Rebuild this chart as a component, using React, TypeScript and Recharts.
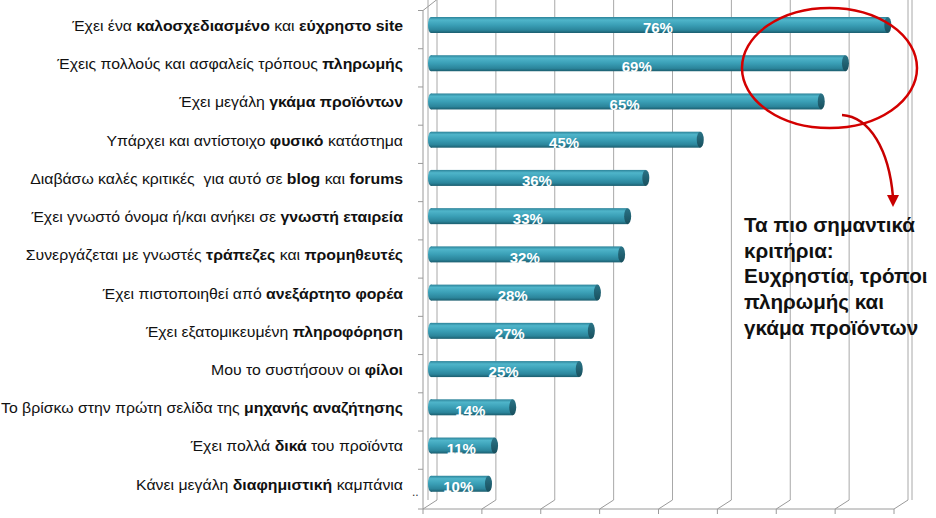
import React from 'react';
import { Bar, BarChart, CartesianGrid, LabelList, XAxis, YAxis } from 'recharts';

// criteria, top to bottom; **...** marks the bold part of a label
const categories = [
  'Έχει ένα **καλοσχεδιασμένο** και **εύχρηστο site**',
  'Έχεις πολλούς και ασφαλείς τρόπους **πληρωμής**',
  'Έχει μεγάλη **γκάμα προϊόντων**',
  'Υπάρχει και αντίστοιχο **φυσικό** κατάστημα',
  'Διαβάσω καλές κριτικές  για αυτό σε **blog** και **forums**',
  'Έχει γνωστό όνομα ή/και ανήκει σε **γνωστή εταιρεία**',
  'Συνεργάζεται με γνωστές **τράπεζες** και **προμηθευτές**',
  'Έχει πιστοποιηθεί από **ανεξάρτητο φορέα**',
  'Έχει εξατομικευμένη **πληροφόρηση**',
  'Μου το συστήσουν οι **φίλοι**',
  'Το βρίσκω στην πρώτη σελίδα της **μηχανής αναζήτησης**',
  'Έχει πολλά **δικά** του προϊόντα',
  'Κάνει μεγάλη **διαφημιστική** καμπάνια',
];

const shares = [76, 69, 65, 45, 36, 33, 32, 28, 27, 25, 14, 11, 10];

const noteLines = [
  'Τα πιο σημαντικά',
  'κριτήρια:',
  'Ευχρηστία, τρόποι',
  'πληρωμής και',
  'γκάμα προϊόντων',
];

const gridTicks = [0, 1, 2, 3, 4, 5, 6, 7, 8];

const data = categories.map((label, i) => ({ label, value: shares[i] }));

const FONT = '"Liberation Sans", Arial, sans-serif';

// layout of the pseudo-3d box
const W = 936;
const H = 518;
const PLOT_LEFT = 428;
const PLOT_RIGHT = 912;
const PLOT_TOP = 6;
const PLOT_BOTTOM = 503;
const WALL_X = 423;
const BACK_LEFT = 437;
const STEP = 58.875;
const DEPTH_X = 14;
const DEPTH_Y = 9;
const FLOOR_Y = 509;
const BACK_FLOOR = FLOOR_Y - DEPTH_Y;
const gridA = (PLOT_LEFT - BACK_LEFT) / STEP;
const gridB = gridA + (PLOT_RIGHT - PLOT_LEFT) / STEP;

const CategoryTick = ({ x, y, payload }: any) => {
  const parts = String(payload.value).split('**');
  return (
    <g transform={`translate(${x},${y}) scale(1.055,1)`}>
      <text
        x={0}
        y={0}
        textAnchor="end"
        dominantBaseline="central"
        fontFamily={FONT}
        fontSize={15}
        fill="#111"
        style={{ whiteSpace: 'pre' }}
      >
        {parts.map((p, i) => (
          <tspan key={i} fontWeight={i % 2 ? 'bold' : 'normal'}>
            {p}
          </tspan>
        ))}
      </text>
    </g>
  );
};

const CylinderBar = ({ x, y, width, height }: any) => {
  if (!width || width <= 0) return null;
  const cy = y + height / 2;
  return (
    <g>
      <ellipse cx={x + 3} cy={cy} rx={3} ry={height / 2} fill="url(#barBody)" />
      <rect x={x + 3} y={y} width={Math.max(width - 3, 0)} height={height} fill="url(#barBody)" />
      <ellipse cx={x + width} cy={cy} rx={3.5} ry={height / 2} fill="url(#barCap)" />
    </g>
  );
};

const Frame = () => {
  const ticksY = categories.map((_, i) => PLOT_TOP + 4.5 + (i * (PLOT_BOTTOM - PLOT_TOP)) / categories.length);
  ticksY.push(FLOOR_Y);
  const frontX = gridTicks.map((k) => BACK_LEFT - DEPTH_X + k * STEP);
  return (
    <svg width={W} height={H} style={{ position: 'absolute', left: 0, top: 0, pointerEvents: 'none' }}>
      <g stroke="#9a9a9a" strokeWidth={1} fill="none">
        <line x1={WALL_X} y1={ticksY[0]} x2={WALL_X} y2={FLOOR_Y} />
        <line x1={WALL_X} y1={ticksY[0]} x2={BACK_LEFT} y2={ticksY[0] - DEPTH_Y - 2} />
        {ticksY.map((t, i) => (
          <line key={'wy' + i} x1={WALL_X - 5} y1={t} x2={WALL_X} y2={t} />
        ))}
        <line x1={frontX[0]} y1={FLOOR_Y} x2={frontX[frontX.length - 1]} y2={FLOOR_Y} />
        {frontX.map((fx, i) => (
          <g key={'fx' + i}>
            <line x1={fx} y1={FLOOR_Y} x2={fx + DEPTH_X} y2={BACK_FLOOR} />
            <line x1={fx} y1={FLOOR_Y} x2={fx} y2={FLOOR_Y + 5} />
          </g>
        ))}
      </g>
      <text x={412} y={496} fontFamily={FONT} fontSize={12} fill="#333">..</text>
      <ellipse cx={829.5} cy={68} rx={87.5} ry={60} fill="none" stroke="#d40000" strokeWidth={2.5} />
      <path d="M842,115 C870,117 889,150 893,197" fill="none" stroke="#c80000" strokeWidth={2.5} />
      <polygon points="887,195 899,195 893,207" fill="#c80000" />
      <text fontFamily={FONT} fontSize={20.6} fontWeight="bold" fill="#111">
        {noteLines.map((line, i) => (
          <tspan key={i} x={744} y={232 + i * 25.7}>
            {line}
          </tspan>
        ))}
      </text>
    </svg>
  );
};

export default function App() {
  return (
    <div style={{ position: 'relative', width: W, height: H, background: '#fff' }}>
      <style>{'body{margin:0}'}</style>
      <svg width={0} height={0} style={{ position: 'absolute' }}>
        <defs>
          <linearGradient id="barBody" x1="0" y1="0" x2="0" y2="1">
            <stop offset="0" stopColor="#2d8399" />
            <stop offset="0.18" stopColor="#4fb5ca" />
            <stop offset="0.5" stopColor="#3a9fb6" />
            <stop offset="0.82" stopColor="#2b859b" />
            <stop offset="1" stopColor="#1b5d6e" />
          </linearGradient>
          <linearGradient id="barCap" x1="0" y1="0" x2="0" y2="1">
            <stop offset="0" stopColor="#2a7487" />
            <stop offset="1" stopColor="#184f5d" />
          </linearGradient>
        </defs>
      </svg>
      <BarChart
        width={W}
        height={H}
        data={data}
        layout="vertical"
        margin={{ top: PLOT_TOP, right: W - PLOT_RIGHT, bottom: H - PLOT_BOTTOM, left: 0 }}
        barSize={16}
      >
        <XAxis
          xAxisId="grid"
          type="number"
          domain={[gridA, gridB]}
          ticks={gridTicks}
          allowDataOverflow
          hide
        />
        <CartesianGrid
          xAxisId="grid"
          horizontal={false}
          stroke="#a8a8a8"
          y={0}
          height={BACK_FLOOR}
        />
        <XAxis type="number" domain={[0, 80]} hide />
        <YAxis
          type="category"
          dataKey="label"
          width={PLOT_LEFT}
          axisLine={false}
          tickLine={false}
          tickSize={0}
          tickMargin={PLOT_LEFT - 403}
          interval={0}
          tick={<CategoryTick />}
        />
        <Bar dataKey="value" shape={<CylinderBar />} isAnimationActive={false}>
          <LabelList
            dataKey="value"
            position="center"
            formatter={(v: any) => `${v}%`}
            fill="#fff"
            fontFamily={FONT}
            fontWeight="bold"
            fontSize={15}
            dy={3}
          />
        </Bar>
      </BarChart>
      <Frame />
    </div>
  );
}
